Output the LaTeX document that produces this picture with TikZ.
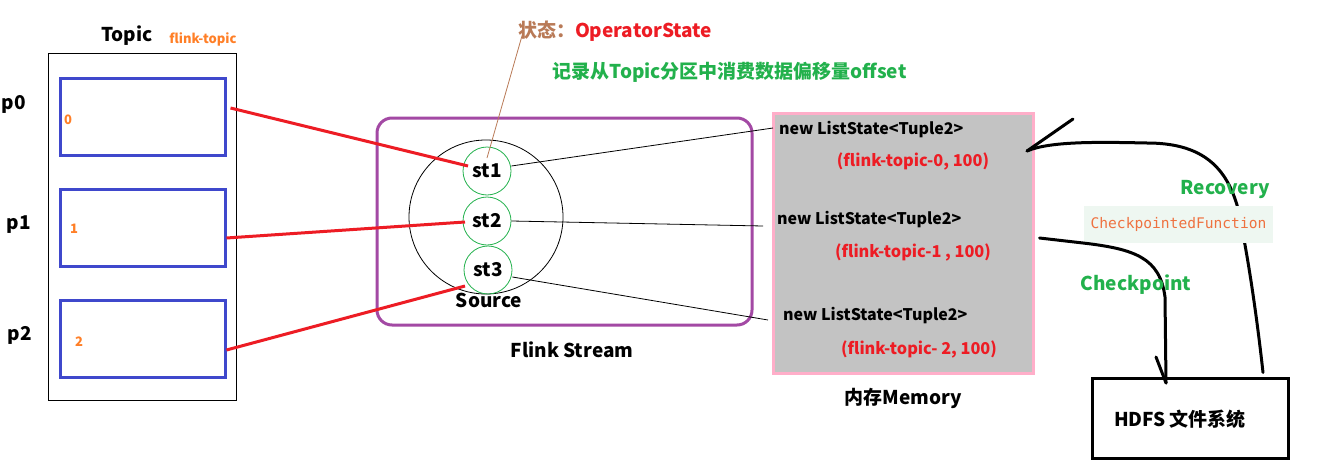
\documentclass[tikz,border=0pt]{standalone}
\usepackage{fontspec}
\setmainfont{Noto Sans CJK SC}
\setmonofont{DejaVu Sans Mono}
\usetikzlibrary{calc}
\definecolor{pred}{HTML}{ED1C24}
\definecolor{pblue}{HTML}{3F48CC}
\definecolor{ppurple}{HTML}{A349A4}
\definecolor{pgreen}{HTML}{22B14C}
\definecolor{porange}{HTML}{FF7F27}
\definecolor{pbrown}{HTML}{B97A57}
\definecolor{ppink}{HTML}{FFAEC9}
\definecolor{pgray}{HTML}{C3C3C3}
\definecolor{codebg}{HTML}{EEF7F1}
\definecolor{codefg}{HTML}{EE7240}
\begin{document}
\begin{tikzpicture}[x=1pt,y=-1pt,
  big/.style={font=\bfseries\fontsize{19}{22}\selectfont, inner sep=0pt},
  small/.style={font=\bfseries\fontsize{13}{15}\selectfont, inner sep=0pt, text=porange},
  part/.style={draw=pblue, line width=3pt, minimum width=165pt, minimum height=77pt, inner sep=0pt},
  stnode/.style={circle, draw=pgreen, line width=0.8pt, minimum size=48pt, inner sep=0pt, font=\bfseries\fontsize{19}{22}\selectfont},
  redline/.style={draw=pred, line width=3pt},
  thin/.style={draw=black, line width=0.8pt},
  lst/.style={font=\bfseries\fontsize{16}{19}\selectfont, inner sep=0pt, anchor=west},
  val/.style={font=\bfseries\fontsize{16.3}{19}\selectfont, inner sep=0pt, text=pred},
  arrowline/.style={draw=black, line width=3pt},
  greenlbl/.style={font=\bfseries\fontsize{19}{22}\selectfont, inner sep=0pt, text=pgreen}]
\fill[white] (0,0) rectangle (1319,471);
\useasboundingbox (0,0) rectangle (1319,471);

% Topic
\node[draw, line width=0.8pt, minimum width=188pt, minimum height=347pt, inner sep=0pt] (topic) at (142,226.5) {};
\node[big] (topiclbl) at (127,36) {Topic};
\node[small] (topicname) at (203,39) {flink-topic};
\node[part] (b0) at (142.5,116.5) {};
\node[part] (b1) at (142.5,227.5) {};
\node[part] (b2) at (142.5,338.5) {};
\node[small] (n0) at (68,120) {0};
\node[small] (n1) at (74,229) {1};
\node[small] (n2) at (79,342) {2};
\node[big] (p0) at (14,104) {p0};
\node[big] (p1) at (19,225) {p1};
\node[big] (p2) at (20,335) {p2};

% Flink stream
\node[draw=ppurple, line width=3pt, rounded corners=15pt, minimum width=375pt, minimum height=207pt, inner sep=0pt] (flink) at (564.5,221.5) {};
\node[circle, draw, line width=0.8pt, minimum size=154pt, inner sep=0pt] (src) at (486,217) {};
\node[stnode] (st1) at (487,171) {st1};
\node[stnode] (st2) at (487,221) {st2};
\node[stnode] (st3) at (488,270) {st3};
\node[big] (srclbl) at (489,300) {Source};
\node[big] (flinklbl) at (572,350) {Flink Stream};

% red connectors
\draw[redline] ($(b0.east)+(4,-8.5)$) -- ($(st1.center)+(-19,-5)$);
\draw[redline] ($(b1.east)+(0,10.5)$) -- ($(st2.center)+(-22,1)$);
\draw[redline] ($(b2.east)+(0,11.5)$) -- ($(st3.center)+(-23,16)$);

% annotation
\node[big, anchor=center] (state) at (615,31) {{\color{pbrown}状态：}{\color{pred}OperatorState}};
\draw[pbrown, line width=0.8pt] ($(st1.center)+(0,-13)$) -- ($(state.west)+(5,2)$);
\node[greenlbl] (note) at (729.5,72) {记录从Topic分区中消费数据偏移量offset};

% memory
\node[fill=pgray, draw=ppink, line width=3pt, minimum width=260pt, minimum height=260pt, inner sep=0pt] (mem) at (903,243) {};
\node[lst] (l0) at (779,130) {new ListState<Tuple2>};
\node[val] (v0) at (913,161) {(flink-topic-0, 100)};
\node[lst] (l1) at (777,220) {new ListState<Tuple2>};
\node[val] (v1) at (913,252) {(flink-topic-1 , 100)};
\node[lst] (l2) at (783,316) {new ListState<Tuple2>};
\node[val] (v2) at (919,349) {(flink-topic- 2, 100)};
\node[big] (memlbl) at (903,398) {内存Memory};

\draw[thin] (st1.east) ++(0,-5) -- ($(l0.west)+(-6,-2)$);
\draw[thin] (st2.east) -- ($(l1.west)+(-14,6)$);
\draw[thin] ($(st3.east)+(0,7)$) -- ($(l2.west)+(-15,4)$);

% HDFS
\node[draw, line width=3pt, minimum width=196pt, minimum height=80pt, inner sep=0pt] (hdfs) at (1190,418) {};
\node[big] (hdfslbl) at (1180,419) {HDFS 文件系统};

% Recovery arrow
\coordinate (rtip) at (1027,151);
\draw[arrowline, line cap=round] ($(hdfs.north)+(73,-4)$) .. controls (1255,300) and (1245,240) .. (1237,205)
   .. controls (1225,165) and (1200,143) .. (1147,143) .. controls (1100,142) and (1050,141) .. (rtip);
\draw[arrowline, line cap=round] (rtip) -- (1073,119);

% CheckpointedFunction box
\node[fill=codebg, minimum width=189pt, minimum height=37pt, inner sep=0pt, font=\ttfamily\fontsize{14.6}{17}\selectfont, text=codefg] (cpf) at (1178.5,224.5) {CheckpointedFunction};

% Checkpoint arrow
\coordinate (ctip) at (1166,383);
\draw[arrowline, line cap=round] ($(mem.east)+(5,-5)$) -- (1083,243) .. controls (1135,249) and (1160,258) .. (1165,297) -- (ctip);
\draw[arrowline, line cap=round] (1156,357) -- (ctip);

\node[greenlbl] (rec) at (1225,189) {Recovery};
\node[greenlbl] (chk) at (1136,285) {Checkpoint};
\end{tikzpicture}
\end{document}
